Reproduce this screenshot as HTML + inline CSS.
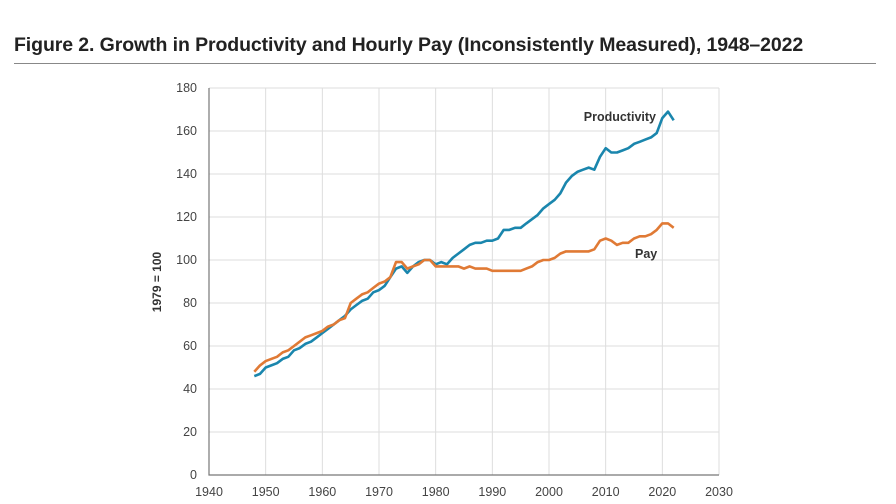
<!DOCTYPE html>
<html><head><meta charset="utf-8"><style>
body{margin:0;background:#fff;font-family:"Liberation Sans",sans-serif;}
#wrap{position:relative;width:896px;height:504px;overflow:hidden;}
h1{position:absolute;left:14px;top:34px;margin:0;font-size:19.5px;font-weight:bold;color:#222;letter-spacing:-0.1px;white-space:nowrap;}
#rule{position:absolute;left:14px;top:63px;width:862px;height:1px;background:#888;}
</style></head><body>
<div id="wrap">
<h1>Figure 2. Growth in Productivity and Hourly Pay (Inconsistently Measured), 1948–2022</h1>
<div id="rule"></div>
<svg id="chart" width="896" height="504" style="position:absolute;left:0;top:0"></svg>
</div>
<script>
const years=[1948,1949,1950,1951,1952,1953,1954,1955,1956,1957,1958,1959,1960,1961,1962,1963,1964,1965,1966,1967,1968,1969,1970,1971,1972,1973,1974,1975,1976,1977,1978,1979,1980,1981,1982,1983,1984,1985,1986,1987,1988,1989,1990,1991,1992,1993,1994,1995,1996,1997,1998,1999,2000,2001,2002,2003,2004,2005,2006,2007,2008,2009,2010,2011,2012,2013,2014,2015,2016,2017,2018,2019,2020,2021,2022];
const productivity=[46,47,50,51,52,54,55,58,59,61,62,64,66,68,70,72,74,77,79,81,82,85,86,88,92,96,97,94,97,99,100,100,98,99,98,101,103,105,107,108,108,109,109,110,114,114,115,115,117,119,121,124,126,128,131,136,139,141,142,143,142,148,152,150,150,151,152,154,155,156,157,159,166,169,165];
const pay=[48,51,53,54,55,57,58,60,62,64,65,66,67,69,70,72,73,80,82,84,85,87,89,90,92,99,99,96,97,98,100,100,97,97,97,97,97,96,97,96,96,96,95,95,95,95,95,95,96,97,99,100,100,101,103,104,104,104,104,104,105,109,110,109,107,108,108,110,111,111,112,114,117,117,115];
const yTicks=[0,20,40,60,80,100,120,140,160,180];
const xTicks=[1940,1950,1960,1970,1980,1990,2000,2010,2020,2030];
const NS="http://www.w3.org/2000/svg",svg=document.getElementById('chart');
const X=v=>209+(v-1940)*(719-209)/90, Y=v=>475-v*(475-88)/180;
function mk(t,a,p){const e=document.createElementNS(NS,t);for(const k in a)e.setAttribute(k,a[k]);(p||svg).appendChild(e);return e;}
xTicks.forEach(t=>{
 const l=mk('line',{x1:X(t),x2:X(t),y1:88,y2:475,stroke:'#ddd','stroke-width':1});
 
 
 const tx=mk('text',{x:X(t),y:496,'text-anchor':'middle','font-size':12.5,fill:'#444'});tx.textContent=t;
 
 
});
yTicks.forEach(t=>{
 if(t>0){const l=mk('line',{x1:209,x2:719,y1:Y(t),y2:Y(t),stroke:'#ddd','stroke-width':1});
 
 }
 const tx=mk('text',{x:197,y:Y(t)+4,'text-anchor':'end','font-size':12.5,fill:'#444'});tx.textContent=t;
 
 
});
const ax=mk('path',{d:`M209 88V475H719`,fill:'none',stroke:'#777','stroke-width':1.2});


const yt=mk('text',{x:0,y:0,transform:'translate(161,282) rotate(-90)','text-anchor':'middle','font-size':12,'font-weight':'bold',fill:'#333'});yt.textContent='1979 = 100';


function line(vals,color,name){
 const p=mk('path',{d:vals.map((v,i)=>(i?'L':'M')+X(years[i]).toFixed(1)+' '+Y(v).toFixed(1)).join(''),fill:'none',stroke:color,'stroke-width':2.6,'stroke-linejoin':'round'});
 
 
}
line(productivity,'#1a86ad','productivity-line');
line(pay,'#e07a35','pay-line');
const l1=mk('text',{x:656,y:121,'text-anchor':'end','font-size':12.5,'font-weight':'bold',fill:'#333'});l1.textContent='Productivity';


const l2=mk('text',{x:635,y:258,'font-size':12.5,'font-weight':'bold',fill:'#333'});l2.textContent='Pay';


</script>
</body></html>
